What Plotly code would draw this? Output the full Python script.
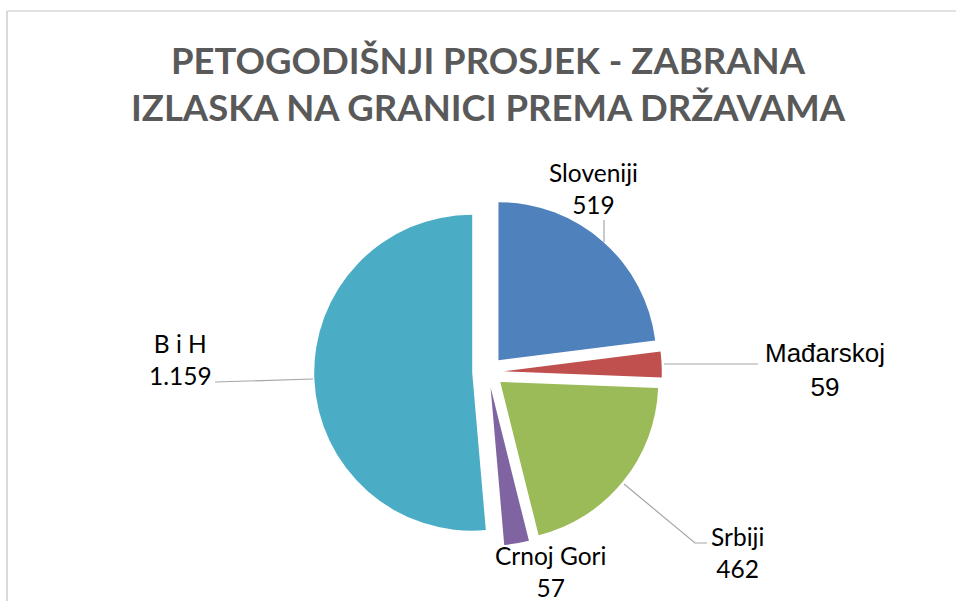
import plotly.graph_objects as go

# ---- data ----
categories = ["Sloveniji", "Mađarskoj", "Srbiji", "Crnoj Gori", "B i H"]
values = [519, 59, 462, 57, 1159]
title_lines = ["PETOGODIŠNJI PROSJEK - ZABRANA", "IZLASKA NA GRANICI PREMA DRŽAVAMA"]

# ---- style ----
colors = ["#4F81BD", "#C0504D", "#9BBB59", "#8064A2", "#4BACC6"]
W, H = 956, 601


def fx(px):
    return px / W


def fy(py):
    return 1 - py / H


def fmt(v):
    return f"{v:,}".replace(",", ".")


# pie geometry (pixels): centre and unpulled radius
cx, cy, r, pull = 488, 372, 158, 0.10
half = r * (1 + pull)

fig = go.Figure(
    go.Pie(
        labels=categories,
        values=values,
        marker=dict(colors=colors, line=dict(color="white", width=0)),
        sort=False,
        direction="clockwise",
        rotation=0,
        pull=[pull] * len(values),
        textinfo="none",
        hoverinfo="label+value",
        showlegend=False,
        domain=dict(x=[fx(cx - half), fx(cx + half)], y=[fy(cy + half), fy(cy - half)]),
    )
)

# label positions (pixels, centre of text block) and fonts
label_pos = {
    "Sloveniji": (593, 189, "Lato", 24.5),
    "Mađarskoj": (825, 370, "Liberation Sans, Arial", 26),
    "Srbiji": (737, 552, "Lato", 24.5),
    "Crnoj Gori": (550, 571, "Lato", 24.5),
    "B i H": (180, 359, "Lato", 24.5),
}
annotations = []
for name, val in zip(categories, values):
    x, y, fam, size = label_pos[name]
    annotations.append(
        dict(
            x=fx(x), y=fy(y), xref="paper", yref="paper",
            text=f"{name}<br>{fmt(val)}", showarrow=False,
            xanchor="center", yanchor="middle", align="center",
            font=dict(family=fam, size=size, color="#000000"),
        )
    )

# leader lines (pixels)
leaders = [
    [(604, 220), (604, 242)],
    [(664, 364), (758, 364)],
    [(624, 484), (695, 543), (707, 543)],
    [(215, 382), (313, 379)],
]
shapes = []
for pts in leaders:
    path = "M " + " L ".join(f"{fx(x)},{fy(y)}" for x, y in pts)
    shapes.append(dict(type="path", xref="paper", yref="paper", path=path,
                       line=dict(color="#A6A6A6", width=1.2)))

# chart-area border (top and left visible)
shapes.append(dict(type="line", xref="paper", yref="paper", x0=fx(7), x1=fx(W), y0=fy(11), y1=fy(11),
                   line=dict(color="#D9D9D9", width=1.5)))
shapes.append(dict(type="line", xref="paper", yref="paper", x0=fx(7), x1=fx(7), y0=fy(11), y1=fy(H),
                   line=dict(color="#D9D9D9", width=2)))

fig.update_layout(
    width=W,
    height=H,
    margin=dict(l=0, r=0, t=0, b=0),
    paper_bgcolor="white",
    plot_bgcolor="white",
    title=dict(
        text="<br>".join(title_lines),
        x=fx(488), xanchor="center",
        y=fy(74), yanchor="middle", yref="container",
        font=dict(family="Lato", size=36.5, color="#595959", weight="bold"),
    ),
    annotations=annotations,
    shapes=shapes,
)

# remove the default page margin so the 956x601 figure fills the window exactly
fig.write_html(
    "out.html",
    config={"displayModeBar": False},
    post_script="document.body.style.margin='0px';document.body.style.overflow='hidden';",
)
